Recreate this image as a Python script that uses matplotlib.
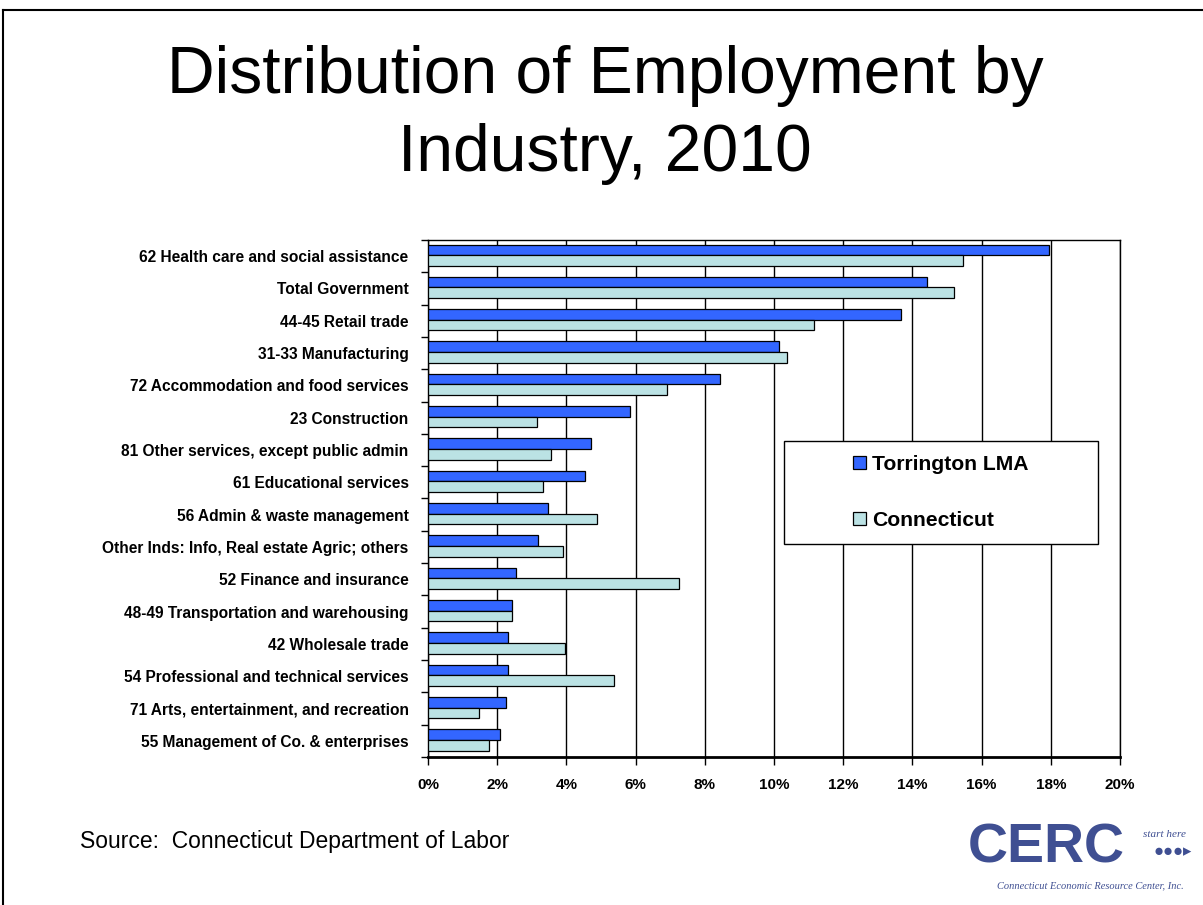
import matplotlib
matplotlib.use("Agg")
import matplotlib.pyplot as plt
from matplotlib.lines import Line2D
from matplotlib.patches import Rectangle
from matplotlib.ticker import MultipleLocator, FixedLocator, PercentFormatter
import numpy as np

plt.rcParams["font.family"] = ["Liberation Sans", "DejaVu Sans"]

# data, top to bottom as shown
categories = [
    "62 Health care and social assistance",
    "Total Government",
    "44-45 Retail trade",
    "31-33 Manufacturing",
    "72 Accommodation and food services",
    "23 Construction",
    "81 Other services, except public admin",
    "61 Educational services",
    "56 Admin & waste management",
    "Other Inds: Info, Real estate Agric; others",
    "52 Finance and insurance",
    "48-49 Transportation and warehousing",
    "42 Wholesale trade",
    "54 Professional and technical services",
    "71 Arts, entertainment, and recreation",
    "55 Management of Co. & enterprises",
]
torrington = [17.96, 14.41, 13.68, 10.15, 8.43, 5.85, 4.72, 4.53,
              3.46, 3.17, 2.55, 2.44, 2.30, 2.30, 2.26, 2.09]
connecticut = [15.46, 15.19, 11.17, 10.39, 6.92, 3.14, 3.56, 3.33,
               4.88, 3.91, 7.26, 2.44, 3.95, 5.38, 1.47, 1.75]

BLUE = "#3366FF"
TEAL = "#BBE2E4"

fig = plt.figure(figsize=(12.03, 9.05), dpi=100)

# slide frame (top and left edges visible)
fig.add_artist(Line2D([0.0025, 1.0], [1 - 10 / 905, 1 - 10 / 905], color="black", lw=1.5, transform=fig.transFigure))
fig.add_artist(Line2D([0.0025, 0.0025], [0.0, 1 - 10 / 905], color="black", lw=1.5, transform=fig.transFigure))

fig.text(0.503, 1 - 76 / 905, "Distribution of Employment by", ha="center", va="center", fontsize=47.5)
fig.text(0.503, 1 - 154 / 905, "Industry, 2010", ha="center", va="center", fontsize=47.5)

ax = fig.add_axes([428 / 1203, 1 - 757 / 905, (1120 - 428) / 1203, (757 - 240) / 905])

n = len(categories)
y = np.arange(n)
h = 0.33
ax.barh(y - h / 2 - 0.03, torrington, height=h, color=BLUE, edgecolor="black", linewidth=0.9,
        label="Torrington LMA", zorder=3)
ax.barh(y + h / 2 - 0.03, connecticut, height=h, color=TEAL, edgecolor="black", linewidth=0.9,
        label="Connecticut", zorder=3)

ax.set_ylim(n - 0.5, -0.5)
ax.set_xlim(0, 20)
ax.xaxis.set_major_locator(MultipleLocator(2))
ax.xaxis.set_major_formatter(PercentFormatter(decimals=0))
ax.set_yticks(y)
ax.set_yticklabels(categories, fontsize=11.2, fontweight="bold")
ax.yaxis.set_minor_locator(FixedLocator(np.arange(-0.5, n, 1.0)))
ax.tick_params(axis="y", which="major", length=0, pad=14)
ax.tick_params(axis="y", which="minor", length=5, width=1, direction="out")
ax.tick_params(axis="x", length=6, width=1, direction="out", pad=9)
for lbl in ax.get_xticklabels():
    lbl.set_fontweight("bold")
    lbl.set_fontsize(11)

ax.grid(axis="x", color="black", linewidth=1.0, zorder=0)
for side in ["top", "right", "left"]:
    ax.spines[side].set_linewidth(1.0)
ax.spines["bottom"].set_linewidth(2.0)

# legend box
bx0 = (784 - 428) / 692
by0 = 1 - (544 - 240) / 517
bw = (1098 - 784) / 692
bh = (544 - 441) / 517
ax.add_patch(Rectangle((bx0, by0), bw, bh, transform=ax.transAxes, facecolor="white",
                       edgecolor="black", linewidth=1.0, zorder=4))
leg = ax.legend(loc="center", bbox_to_anchor=(bx0, by0, bw, bh), frameon=False,
                prop={"weight": "bold", "size": 15.2}, handlelength=0.6, handleheight=0.6,
                labelspacing=1.75, handletextpad=0.3)
leg.set_zorder(5)

fig.text(80 / 1203, 1 - 841 / 905, "Source:  Connecticut Department of Labor", ha="left", va="center", fontsize=16.5)

# CERC logo approximation
logo = "#3f4f92"
fig.text(1125 / 1203, 1 - 848 / 905, "CERC", ha="right", va="center", fontsize=40, color=logo,
         fontweight="bold")
fig.text(1186 / 1203, 1 - 834 / 905, "start here", ha="right", va="center", fontsize=8, color=logo,
         family="Liberation Serif", fontstyle="italic")
fig.text(1192 / 1203, 1 - 852 / 905, "\u25cf\u25cf\u25cf\u25b8", ha="right", va="center", fontsize=12, color=logo)
fig.text(1184 / 1203, 1 - 886 / 905, "Connecticut Economic Resource Center, Inc.", ha="right", va="center",
         fontsize=7.5, color=logo, family="Liberation Serif", fontstyle="italic")

fig.savefig("out.png", dpi=100)
